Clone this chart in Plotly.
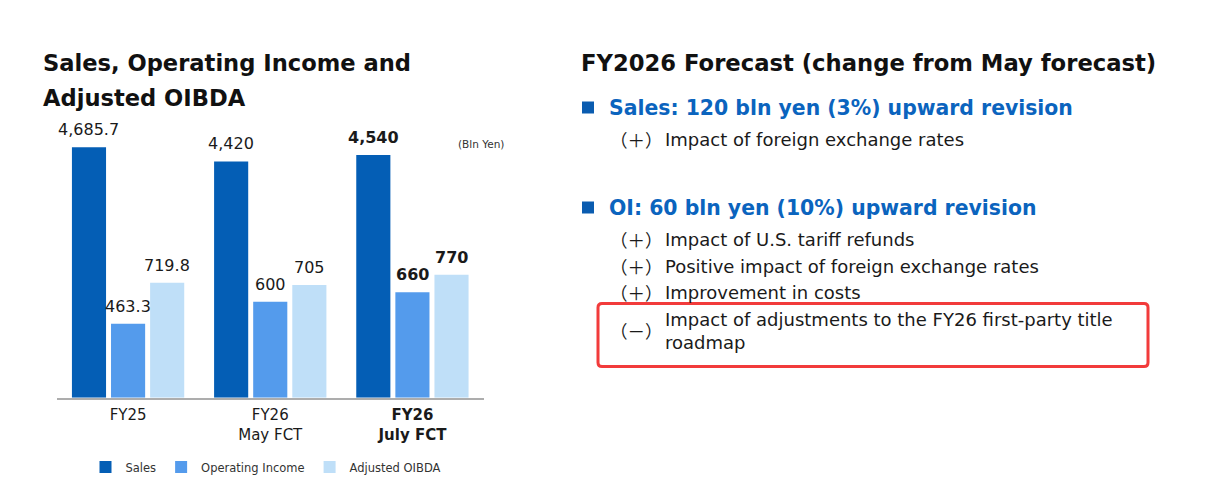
import plotly.graph_objects as go

# ---------------- data ----------------
categories = ["FY25", "FY26<br>May FCT", "<b>FY26<br>July FCT</b>"]
sales = [4685.7, 4420, 4540]
operating_income = [463.3, 600, 660]
adjusted_oibda = [719.8, 705, 770]
sales_labels = ["4,685.7", "4,420", "<b>4,540</b>"]
oi_labels = ["463.3", "600", "<b>660</b>"]
oibda_labels = ["719.8", "705", "<b>770</b>"]
series_names = ["Sales", "Operating Income", "Adjusted OIBDA"]

title_left = ["Sales, Operating Income and", "Adjusted OIBDA"]
title_right = "FY2026 Forecast (change from May forecast)"
sales_header = "Sales: 120 bln yen (3%) upward revision"
sales_items = [("＋", "Impact of foreign exchange rates")]
oi_header = "OI: 60 bln yen (10%) upward revision"
oi_items = [
    ("＋", "Impact of U.S. tariff refunds"),
    ("＋", "Positive impact of foreign exchange rates"),
    ("＋", "Improvement in costs"),
    ("－", "Impact of adjustments to the FY26 first-party title<br>roadmap"),
]
unit_label = "(Bln Yen)"

# ---------------- style ----------------
W, H = 1218, 497
M = 8  # page body margin
FW, FH = W - 2 * M, H - 2 * M
colors = ["#045EB5", "#549BEC", "#BFDFF8"]
offsets = [-0.395, -0.12, 0.155]
bar_w = 0.24
FONT = "DejaVu Sans"
BLUE = "#0B64BE"


def px(x):
    return (x - M) / FW


def py(y):
    return 1 - (y - M) / FH


xs = list(range(len(categories)))
fig = go.Figure()
series = [sales, operating_income, adjusted_oibda]
labels = [sales_labels, oi_labels, oibda_labels]
axes = ["y", "y2", "y2"]
for k in range(3):
    fig.add_trace(go.Bar(
        x=xs, y=series[k], name=series_names[k], yaxis=axes[k],
        marker=dict(color=colors[k], line=dict(width=0)),
        width=bar_w, offset=offsets[k], hoverinfo="skip",
    ))

annotations = []
for k in range(3):
    for i, v in enumerate(series[k]):
        annotations.append(dict(
            x=xs[i] + offsets[k] + bar_w / 2, y=v, xref="x", yref=axes[k],
            text=labels[k][i], showarrow=False, yanchor="bottom",
            xanchor="center", yshift=6,
            font=dict(family=FONT, size=16, color="#1a1a1a"),
        ))

# left title
for t, yc in zip(title_left, [63, 98]):
    annotations.append(dict(x=px(41), y=py(yc), xref="paper", yref="paper",
                            text=f"<b>{t}</b>", showarrow=False,
                            xanchor="left", yanchor="middle",
                            font=dict(family=FONT, size=22.6, color="#111")))
annotations.append(dict(x=px(481), y=py(144), xref="paper", yref="paper",
                        text=unit_label, showarrow=False, xanchor="center",
                        yanchor="middle",
                        font=dict(family=FONT, size=10.5, color="#333")))
# right title
annotations.append(dict(x=px(579), y=py(63), xref="paper", yref="paper",
                        text=f"<b>{title_right}</b>", showarrow=False,
                        xanchor="left", yanchor="middle",
                        font=dict(family=FONT, size=22.7, color="#111")))

shapes = []


def header(text, yc):
    annotations.append(dict(x=px(607), y=py(yc), xref="paper", yref="paper",
                            text=f"<b>{text}</b>", showarrow=False,
                            xanchor="left", yanchor="middle",
                            font=dict(family=FONT, size=20.4, color=BLUE)))
    shapes.append(dict(type="rect", xref="paper", yref="paper",
                       x0=px(582), x1=px(594), y0=py(yc - 6), y1=py(yc + 6),
                       fillcolor="#0A5CB0", line=dict(width=0)))


def item(sign, text, yc):
    annotations.append(dict(x=px(636), y=py(yc), xref="paper", yref="paper",
                            text=f"（{sign}）", showarrow=False,
                            xanchor="center", yanchor="middle",
                            font=dict(family="Noto Sans CJK JP", size=17.5, color="#1a1a1a")))
    annotations.append(dict(x=px(663), y=py(yc), xref="paper", yref="paper",
                            text=text, showarrow=False, align="left",
                            xanchor="left", yanchor="middle",
                            font=dict(family=FONT, size=18, color="#1a1a1a")))


header(sales_header, 107.5)
for yc, (s, t) in zip([139], sales_items):
    item(s, t, yc)
header(oi_header, 207.5)
for yc, (s, t) in zip([239, 266, 292.5, 330.5], oi_items):
    item(s, t, yc)

# red highlight box (rounded)
x0, x1, y0, y1, r = 598, 1148, 303.5, 366.5, 4
path = (f"M {px(x0 + r)},{py(y0)} L {px(x1 - r)},{py(y0)} Q {px(x1)},{py(y0)} {px(x1)},{py(y0 + r)} "
        f"L {px(x1)},{py(y1 - r)} Q {px(x1)},{py(y1)} {px(x1 - r)},{py(y1)} "
        f"L {px(x0 + r)},{py(y1)} Q {px(x0)},{py(y1)} {px(x0)},{py(y1 - r)} "
        f"L {px(x0)},{py(y0 + r)} Q {px(x0)},{py(y0)} {px(x0 + r)},{py(y0)} Z")
shapes.append(dict(type="path", xref="paper", yref="paper", path=path,
                   line=dict(color="#F23B3B", width=3)))

y_base, y_top = 397.7, 120
fig.update_layout(
    width=FW, height=FH, margin=dict(l=0, r=0, t=0, b=0),
    paper_bgcolor="white", plot_bgcolor="white",
    barmode="overlay",
    font=dict(family=FONT, color="#222"),
    xaxis=dict(domain=[px(57), px(483.5)], range=[-0.5, 2.5],
               tickvals=xs, ticktext=categories, showgrid=False, zeroline=False,
               showline=True, linecolor="#ADADAD", linewidth=1.5, ticks="",
               ticklabelstandoff=3,
               tickfont=dict(family=FONT, size=15, color="#1a1a1a"),
               fixedrange=True),
    yaxis=dict(domain=[py(y_base), py(y_top)], range=[0, (y_base - y_top) / 0.05345],
               visible=False, fixedrange=True),
    yaxis2=dict(domain=[py(y_base), py(y_top)], overlaying="y",
                range=[0, (y_base - y_top) / 0.1598], visible=False,
                fixedrange=True),
    showlegend=True,
    legend=dict(orientation="h", x=px(266), y=py(467), xanchor="center",
                yanchor="middle", font=dict(family=FONT, size=11.5, color="#333"),
                itemwidth=30, bgcolor="rgba(0,0,0,0)"),
    annotations=annotations, shapes=shapes,
)

fig.write_html("out.html")
